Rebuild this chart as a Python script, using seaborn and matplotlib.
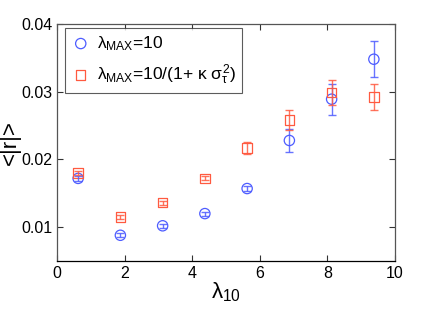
import numpy as np
import pandas as pd
import matplotlib
matplotlib.use("Agg")
import matplotlib.pyplot as plt
import seaborn as sns

# bin centres of lambda_10
lam = [0.625, 1.875, 3.125, 4.375, 5.625, 6.875, 8.125, 9.375]

# <|r|> with lambda_MAX = 10
r_const = [0.0172, 0.0088, 0.0102, 0.0120, 0.0157, 0.0228, 0.0289, 0.0348]
err_const = [0.0004, 0.0003, 0.0003, 0.0003, 0.0004, 0.0017, 0.0023, 0.0027]

# <|r|> with lambda_MAX = 10/(1 + kappa sigma_tau^2)
r_var = [0.0180, 0.0115, 0.0136, 0.0172, 0.0217, 0.0258, 0.0299, 0.0292]
err_var = [0.0003, 0.0003, 0.0003, 0.0003, 0.0009, 0.0015, 0.0019, 0.0019]

label_const = r"$\lambda_{\rm MAX}$=10"
label_var = r"$\lambda_{\rm MAX}$=10/(1+ $\kappa$ $\sigma_\tau^2$)"

blue = "#4d5cff"
red = "#ff5a40"

sns.set_style("ticks")
plt.rcParams["font.family"] = ["Liberation Sans", "DejaVu Sans"]
plt.rcParams["mathtext.fontset"] = "custom"
plt.rcParams["mathtext.rm"] = "Liberation Sans"
plt.rcParams["mathtext.it"] = "Liberation Sans"
plt.rcParams["mathtext.bf"] = "Liberation Sans:bold"
plt.rcParams["text.color"] = "black"
plt.rcParams["axes.labelcolor"] = "black"
plt.rcParams["xtick.color"] = "black"
plt.rcParams["ytick.color"] = "black"

fig = plt.figure(figsize=(4.36, 3.10), dpi=100)
ax = fig.add_axes([57 / 436, 1 - 261 / 310, (395 - 57) / 436, (261 - 24) / 310])

df_c = pd.DataFrame({"lam": lam, "r": r_const})
df_v = pd.DataFrame({"lam": lam, "r": r_var})

ax.errorbar(lam, r_const, yerr=err_const, fmt="none", ecolor=blue, elinewidth=1,
            capsize=3, capthick=1, alpha=0.85)
ax.errorbar(lam, r_var, yerr=err_var, fmt="none", ecolor=red, elinewidth=1,
            capsize=3, capthick=1, alpha=0.85)

sns.scatterplot(data=df_c, x="lam", y="r", ax=ax, marker="o", s=55,
                facecolors="none", edgecolors=blue, linewidth=0.9, label=label_const)
sns.scatterplot(data=df_v, x="lam", y="r", ax=ax, marker="s", s=45,
                facecolors="none", edgecolors=red, linewidth=0.9, label=label_var)

ax.set_xlim(0, 10)
ax.set_ylim(0.005, 0.04)
ax.set_xticks([0, 2, 4, 6, 8, 10])
ax.set_yticks([0.01, 0.02, 0.03, 0.04])
ax.set_yticklabels(["0.01", "0.02", "0.03", "0.04"])
ax.tick_params(direction="in", top=True, right=True, labelsize=11.5, length=4,
               width=0.8, color="#333333")
for s in ax.spines.values():
    s.set_visible(True)
    s.set_linewidth(0.9)
    s.set_color("#555555")
ax.spines["bottom"].set_color("black")

ax.set_xlabel(r"$\lambda_{10}$", fontsize=16, labelpad=0)
ax.set_ylabel("<|r|>", fontsize=16, labelpad=0)

leg = ax.legend(loc="upper left", bbox_to_anchor=(0.024, 0.983), fontsize=12.5,
                borderaxespad=0, frameon=True, fancybox=False, edgecolor="#333333",
                handletextpad=0.4, borderpad=0.35, labelspacing=0.55,
                handlelength=1.1)
leg.get_frame().set_linewidth(0.8)

fig.savefig("out.png", dpi=100)
